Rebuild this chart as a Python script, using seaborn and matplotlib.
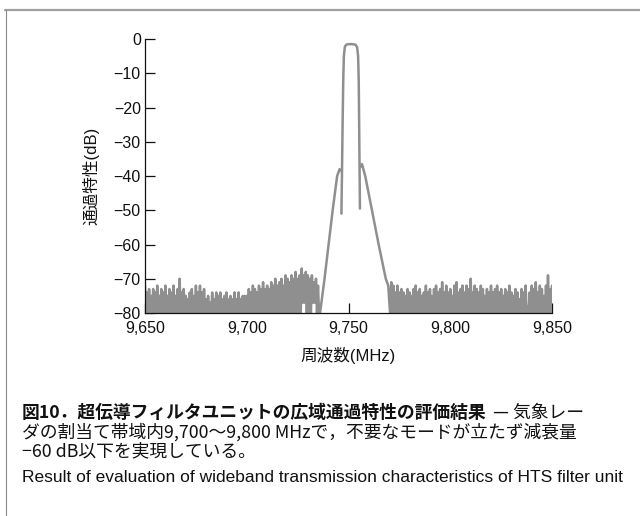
import pandas as pd
import seaborn as sns
import matplotlib
matplotlib.use("Agg")
import matplotlib.pyplot as plt
from matplotlib.ticker import FuncFormatter
from matplotlib.lines import Line2D

# noise floor left of the passband (1 MHz steps, peak / trough in dB)
left_freq = list(range(9650, 9736))
left_hi = [-72, -74, -73, -75, -73, -74, -72, -75, -73, -74,
           -72, -75, -73, -74, -72, -75, -73, -70, -74, -73,
           -75, -76, -74, -73, -75, -72, -74, -72, -74, -73,
           -76, -75, -77, -74, -76, -74, -75, -74, -76, -75,
           -74, -76, -75, -76, -74, -76, -74, -76, -75, -75,
           -75, -73, -74, -72, -73, -74, -72, -73, -71, -73,
           -72, -73, -71, -72, -70, -72, -71, -70, -72, -69,
           -70, -71, -69, -70, -68, -70, -69, -67, -69, -68,
           -69, -70, -69, -71, -70, -72]
left_lo = [-80] * 77 + [-77, -77, -80, -80, -80, -77, -77, -80, -80]

# outer (wideband) skirt of the filter
left_skirt_f = [9736.0, 9738.2, 9740.2, 9742.2, 9744.4, 9745.6, 9746.4]
left_skirt_db = [-80, -70, -60, -50, -40, -38, -38.5]

# passband trace
pass_f = [9746.5, 9746.8, 9747.1, 9747.4, 9747.7, 9748.2, 9749.0, 9750.5,
          9752.0, 9753.5, 9754.2, 9754.7, 9755.0, 9755.2, 9755.4, 9755.6]
pass_db = [-51, -38, -24, -12, -5, -2.2, -1.6, -1.5,
           -1.5, -1.7, -2.4, -5, -12, -24, -37, -49.5]

right_skirt_f = [9755.7, 9756.6, 9758.2, 9761.5, 9764.8, 9768.3, 9769.5, 9770.4]
right_skirt_db = [-37.5, -36.5, -40, -50, -60, -70, -72, -80]

# noise floor right of the passband
right_freq = list(range(9771, 9851))
right_hi = [-71, -72, -74, -72, -74, -73, -74, -75, -73,
            -74, -75, -73, -72, -74, -73, -75, -74, -72, -74,
            -73, -75, -73, -72, -74, -73, -71, -74, -72, -74,
            -73, -75, -72, -71, -74, -73, -72, -74, -72, -73,
            -70, -74, -72, -73, -74, -72, -73, -75, -73, -74,
            -72, -74, -73, -72, -74, -73, -75, -73, -74, -72,
            -74, -75, -73, -74, -76, -73, -74, -72, -78, -74,
            -72, -73, -71, -74, -72, -73, -75, -72, -69, -73,
            -72]
right_lo = [-80] * 80

xticks = [9650, 9700, 9750, 9800, 9850]
yticks = [0, -10, -20, -30, -40, -50, -60, -70, -80]

rows = []
for f, hi, lo in zip(left_freq, left_hi, left_lo):
    rows.append(("wide_left", f, hi))
    rows.append(("wide_left", f + 0.5, lo))
for f, d in zip(left_skirt_f, left_skirt_db):
    rows.append(("wide_left", f, d))
for f, d in zip(pass_f, pass_db):
    rows.append(("pass", f, d))
for f, d in zip(right_skirt_f, right_skirt_db):
    rows.append(("wide_right", f, d))
for f, hi, lo in zip(right_freq, right_hi, right_lo):
    rows.append(("wide_right", f, hi))
    rows.append(("wide_right", f + 0.5, lo))
df = pd.DataFrame(rows, columns=["seg", "freq", "db"])

sns.set_theme(style="ticks")
plt.rcParams["font.family"] = ["Liberation Sans", "Noto Sans CJK JP"]
plt.rcParams["axes.unicode_minus"] = True

fig = plt.figure(figsize=(6.4, 5.16), dpi=100)
ax = fig.add_axes([0.2266, 0.3934, 0.636, 0.531])
sns.lineplot(data=df, x="freq", y="db", units="seg", estimator=None, sort=False,
             color="#8f8f8f", linewidth=1.8, ax=ax, legend=False)

ax.set_xlim(9650, 9850)
ax.set_ylim(-80, 0)
ax.set_xticks(xticks)
ax.set_yticks(yticks)
ax.xaxis.set_major_formatter(FuncFormatter(lambda v, p: f"{int(v):,}"))
ax.tick_params(direction="in", length=7, width=0.9, colors="#111111", labelsize=11.5)
ax.tick_params(axis="x", pad=6)
ax.tick_params(axis="y", pad=3)
sns.despine(ax=ax)
for s in ("left", "bottom"):
    ax.spines[s].set_color("#111111")
    ax.spines[s].set_linewidth(0.9)
ax.set_facecolor("white")
ax.set_xlabel("周波数(MHz)", fontsize=12, color="#111111", labelpad=8)
ax.set_ylabel("通過特性(dB)", fontsize=12, color="#111111", labelpad=10)

# page frame
fig.add_artist(Line2D([5 / 640, 1], [1 - 10 / 516, 1 - 10 / 516], transform=fig.transFigure,
                      color="#a0a0a0", linewidth=1.6))
fig.add_artist(Line2D([6 / 640, 6 / 640], [0, 1 - 10 / 516], transform=fig.transFigure,
                      color="#888888", linewidth=0.8))

# caption
x0 = 22 / 640
cjk = ["Noto Sans CJK JP"]
t1 = fig.text(x0, 1 - 413 / 516, "図10．超伝導フィルタユニットの広域通過特性の評価結果",
              fontsize=12.8, fontweight="bold", family=cjk, va="center", color="#111111")
fig.canvas.draw()
bb = t1.get_window_extent(fig.canvas.get_renderer())
fig.text(bb.x1 / fig.bbox.width + 6 / 640, 1 - 413 / 516, "— 気象レー",
         fontsize=12.8, family=cjk, va="center", color="#111111")
fig.text(x0, 1 - 432 / 516, "ダの割当て帯域内9,700～9,800 MHzで，不要なモードが立たず減衰量",
         fontsize=12.8, family=cjk, va="center", color="#111111")
fig.text(x0, 1 - 451 / 516, "−60 dB以下を実現している。",
         fontsize=12.8, family=cjk, va="center", color="#111111")
fig.text(x0, 1 - 477 / 516,
         "Result of evaluation of wideband transmission characteristics of HTS filter unit",
         fontsize=12.5, family=["Liberation Sans"], va="center", color="#111111")

fig.savefig("out.png", dpi=100)
